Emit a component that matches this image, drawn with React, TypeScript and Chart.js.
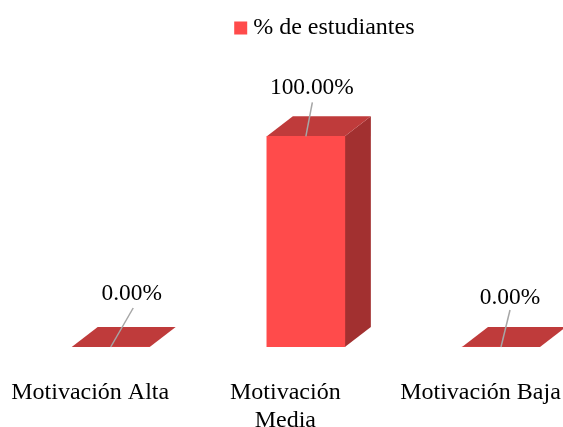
import React, { useEffect, useRef } from "react";
import { Chart, registerables } from "chart.js";

Chart.register(...registerables);

const categories = [["Motivación Alta"], ["Motivación", "Media"], ["Motivación Baja"]];
const seriesName = "% de estudiantes";
const values = [0, 100, 0];
const valueLabels = ["0.00%", "100.00%", "0.00%"];

const FONT = "'Liberation Serif', 'Times New Roman', serif";
const FRONT = "#FF4B4B";
const TOP = "#BF3B3B";
const SIDE = "#A23030";
const LEADER = "#A6A6A6";
const DEPTH_X = 26;
const DEPTH_Y = 20;
const leaderDx = [22.5, 6.5, 9];
const leaderDy = [-39, -34, -37];
const textDx = [21, 6, 9];
const textDy = [-8, -8, -6];

const bar3d = {
  id: "bar3d",
  afterLayout(chart: any) {
    // the reference centres its legend over the plot including the 3D depth
    chart.legend.left += 21.5;
    chart.legend.right += 21.5;
  },
  beforeDatasetsDraw(chart: any) {
    const { ctx } = chart;
    chart.getDatasetMeta(0).data.forEach((el: any) => {
      const p = el.getProps(["x", "y", "base", "width"], true);
      const l = p.x - p.width / 2;
      const r = p.x + p.width / 2;
      ctx.save();
      ctx.fillStyle = SIDE;
      ctx.beginPath();
      ctx.moveTo(r, p.y);
      ctx.lineTo(r + DEPTH_X, p.y - DEPTH_Y);
      ctx.lineTo(r + DEPTH_X, p.base - DEPTH_Y);
      ctx.lineTo(r, p.base);
      ctx.closePath();
      ctx.fill();
      ctx.fillStyle = TOP;
      ctx.beginPath();
      ctx.moveTo(l, p.y);
      ctx.lineTo(l + DEPTH_X, p.y - DEPTH_Y);
      ctx.lineTo(r + DEPTH_X, p.y - DEPTH_Y);
      ctx.lineTo(r, p.y);
      ctx.closePath();
      ctx.fill();
      ctx.restore();
    });
  },
  afterDatasetsDraw(chart: any) {
    const { ctx } = chart;
    chart.getDatasetMeta(0).data.forEach((el: any, i: number) => {
      const p = el.getProps(["x", "y"], true);
      ctx.save();
      ctx.strokeStyle = LEADER;
      ctx.lineWidth = 1.5;
      ctx.beginPath();
      ctx.moveTo(p.x, p.y);
      ctx.lineTo(p.x + leaderDx[i], p.y + leaderDy[i]);
      ctx.stroke();
      ctx.fillStyle = "#000000";
      ctx.font = `23.4px ${FONT}`;
      ctx.textAlign = "center";
      ctx.textBaseline = "alphabetic";
      ctx.fillText(valueLabels[i], p.x + textDx[i], p.y + leaderDy[i] + textDy[i]);
      ctx.restore();
    });
  },
};

export default function App() {
  const ref = useRef<HTMLCanvasElement>(null);
  useEffect(() => {
    const chart = new Chart(ref.current!, {
      type: "bar",
      data: {
        labels: categories,
        datasets: [
          {
            label: seriesName,
            data: values,
            backgroundColor: FRONT,
            borderWidth: 0,
            barThickness: 78,
          },
        ],
      },
      options: {
        responsive: false,
        animation: false,
        layout: { padding: { left: 110.7, right: 62, top: 3, bottom: 0 } },
        plugins: {
          tooltip: { enabled: false },
          legend: {
            position: "top",
            labels: {
              usePointStyle: true,
              pointStyle: "rect",
              boxWidth: 1,
              boxHeight: 13,
              padding: 13,
              color: "#000000",
              font: { family: FONT, size: 24 },
            },
          },
        },
        scales: {
          x: {
            offset: false,
            grid: { display: false },
            border: { display: false },
            ticks: {
              autoSkip: false,
              maxRotation: 0,
              minRotation: 0,
              labelOffset: -20.5,
              padding: 24,
              color: "#000000",
              font: { family: FONT, size: 24, lineHeight: 1.17 },
            },
            afterFit(s: any) {
              s.height = 80;
              s.paddingLeft = 0;
              s.paddingRight = 0;
            },
          },
          y: { display: false, min: 0, max: 141 },
        },
      },
      plugins: [bar3d],
    } as any);
    return () => chart.destroy();
  }, []);
  return (
    <canvas
      ref={ref}
      width={563}
      height={427}
      style={{ position: "absolute", left: 0, top: 0, display: "block" }}
    />
  );
}
